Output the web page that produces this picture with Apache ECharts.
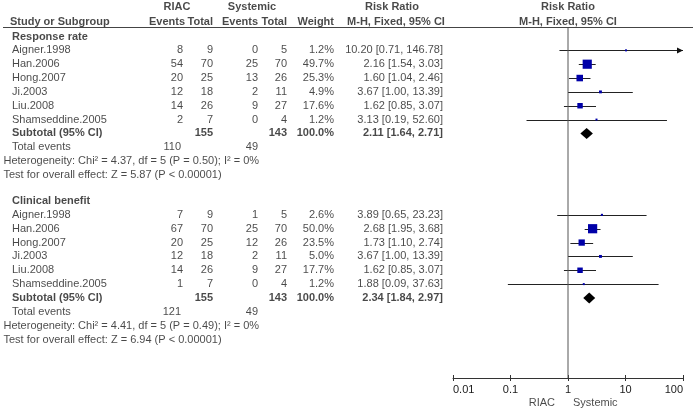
<!DOCTYPE html>
<html><head><meta charset="utf-8">
<script src="https://cdn.jsdelivr.net/npm/echarts@6/dist/echarts.min.js"></script>
<style>html,body{margin:0;padding:0;background:#fff}#c{width:697px;height:412px}</style>
</head><body><div id="c"></div>
<script>
// ---------- data ----------
const studies = ['Aigner.1998','Han.2006','Hong.2007','Ji.2003','Liu.2008','Shamseddine.2005'];
const groupNames = ['Response rate','Clinical benefit'];

// Response rate
const rrRiacEvents = [8,54,20,12,14,2];
const rrRiacTotal  = [9,70,25,18,26,7];
const rrSysEvents  = [0,25,13,2,9,0];
const rrSysTotal   = [5,70,26,11,27,4];
const rrWeight     = [1.2,49.7,25.3,4.9,17.6,1.2];
const rrRR         = [10.20,2.16,1.60,3.67,1.62,3.13];
const rrLo         = [0.71,1.54,1.04,1.00,0.85,0.19];
const rrHi         = [146.78,3.03,2.46,13.39,3.07,52.60];
const rrSubtotal   = [2.11,1.64,2.71];
const rrTotals     = [155,143];
const rrEvents     = [110,49];
const rrHet        = 'Heterogeneity: Chi\u00b2 = 4.37, df = 5 (P = 0.50); I\u00b2 = 0%';
const rrTest       = 'Test for overall effect: Z = 5.87 (P < 0.00001)';

// Clinical benefit
const cbRiacEvents = [7,67,20,12,14,1];
const cbRiacTotal  = [9,70,25,18,26,7];
const cbSysEvents  = [1,25,12,2,9,0];
const cbSysTotal   = [5,70,26,11,27,4];
const cbWeight     = [2.6,50.0,23.5,5.0,17.7,1.2];
const cbRR         = [3.89,2.68,1.73,3.67,1.62,1.88];
const cbLo         = [0.65,1.95,1.10,1.00,0.85,0.09];
const cbHi         = [23.23,3.68,2.74,13.39,3.07,37.63];
const cbSubtotal   = [2.34,1.84,2.97];
const cbTotals     = [155,143];
const cbEvents     = [121,49];
const cbHet        = 'Heterogeneity: Chi\u00b2 = 4.41, df = 5 (P = 0.49); I\u00b2 = 0%';
const cbTest       = 'Test for overall effect: Z = 6.94 (P < 0.00001)';

const xTickLabels = ['0.01','0.1','1','10','100'];
const favourLabels = ['RIAC','Systemic'];

// ---------- build ----------
const groups = [
  {name:groupNames[0], re:rrRiacEvents, rt:rrRiacTotal, se:rrSysEvents, st:rrSysTotal, w:rrWeight, rr:rrRR, lo:rrLo, hi:rrHi, sub:rrSubtotal, tot:rrTotals, ev:rrEvents, het:rrHet, test:rrTest},
  {name:groupNames[1], re:cbRiacEvents, rt:cbRiacTotal, se:cbSysEvents, st:cbSysTotal, w:cbWeight, rr:cbRR, lo:cbLo, hi:cbHi, sub:cbSubtotal, tot:cbTotals, ev:cbEvents, het:cbHet, test:cbTest}
];

const FONT = '"Liberation Sans", Arial, Helvetica, sans-serif';
const TXT = '#1a1a1a';
const col = {name:12, stat:3.5, re:183, rt:213, se:258, st:287, w:334, rr:443};
const groupBase = [0, 11.88];
const yMin = -0.614, yMax = 24.66;
const headRow = [-2.13, -1.08];
const favourRow = 26.46;

const texts = [];
function T(x,row,text,align,bold){
  texts.push({name:String(text), value:[x,row], label:{align:align||'left', fontWeight:bold?'bold':'normal'}});
}
const f2 = v => v.toFixed(2);
const ciTxt = (r,l,h) => f2(r)+' ['+f2(l)+', '+f2(h)+']';

// headers
T(177,headRow[0],'RIAC','center',true);
T(252,headRow[0],'Systemic','center',true);
T(392,headRow[0],'Risk Ratio','center',true);
T(568,headRow[0],'Risk Ratio','center',true);
T(10,headRow[1],'Study or Subgroup','left',true);
T(185,headRow[1],'Events','right',true);
T(213,headRow[1],'Total','right',true);
T(258,headRow[1],'Events','right',true);
T(287,headRow[1],'Total','right',true);
T(334,headRow[1],'Weight','right',true);
T(396,headRow[1],'M-H, Fixed, 95% CI','center',true);
T(568,headRow[1],'M-H, Fixed, 95% CI','center',true);

const forest = [];
groups.forEach((g,gi)=>{
  const base = groupBase[gi];
  T(col.name, base, g.name, 'left', true);
  studies.forEach((s,i)=>{
    const r = base+1+i;
    T(col.name, r, s);
    T(col.re, r, g.re[i], 'right');
    T(col.rt, r, g.rt[i], 'right');
    T(col.se, r, g.se[i], 'right');
    T(col.st, r, g.st[i], 'right');
    T(col.w, r, g.w[i].toFixed(1)+'%', 'right');
    T(col.rr, r, ciTxt(g.rr[i],g.lo[i],g.hi[i]), 'right');
    forest.push([g.rr[i], g.lo[i], g.hi[i], r, g.w[i], 0]);
  });
  const rs = base+7;
  T(col.name, rs, 'Subtotal (95% CI)', 'left', true);
  T(col.rt, rs, g.tot[0], 'right', true);
  T(col.st, rs, g.tot[1], 'right', true);
  T(col.w, rs, '100.0%', 'right', true);
  T(col.rr, rs, ciTxt(g.sub[0],g.sub[1],g.sub[2]), 'right', true);
  forest.push([g.sub[0], g.sub[1], g.sub[2], rs, 100, 1]);
  T(col.name, base+8, 'Total events');
  T(col.re-2, base+8, g.ev[0], 'right');
  T(col.se, base+8, g.ev[1], 'right');
  T(col.stat, base+9, g.het);
  T(col.stat, base+10, g.test);
});
T(555, favourRow, favourLabels[0], 'right');
T(573, favourRow, favourLabels[1], 'left');

function renderItem(params, api){
  const rr=api.value(0), lo=api.value(1), hi=api.value(2), row=api.value(3), w=api.value(4), sub=api.value(5);
  const c = api.coord([rr,row]);
  if (sub) {
    const a = api.coord([lo,row]), b = api.coord([hi,row]);
    return {type:'polygon', shape:{points:[[a[0],c[1]],[c[0],c[1]-5.5],[b[0],c[1]],[c[0],c[1]+5.5]]}, style:{fill:'#000'}};
  }
  const y = Math.round(c[1])+0.5;
  const a = api.coord([Math.max(lo,0.01),row]), b = api.coord([Math.min(hi,100),row]);
  const children = [{type:'line', shape:{x1:a[0],y1:y,x2:b[0],y2:y}, style:{stroke:'#222',lineWidth:1}}];
  if (hi>100) children.push({type:'polygon', shape:{points:[[b[0]-6,y-3],[b[0],y],[b[0]-6,y+3]]}, style:{fill:'#111'}});
  const s = Math.max(2, 1.3*Math.sqrt(w));
  children.push({type:'rect', shape:{x:c[0]-s/2, y:c[1]-s/2, width:s, height:s}, style:{fill:'#0000a8'}});
  return {type:'group', children};
}

const chart = echarts.init(document.getElementById('c'), null, {renderer:'canvas'});
chart.setOption({
  animation:false,
  backgroundColor:'#fff',
  textStyle:{fontFamily:FONT},
  grid:[
    {left:453, top:28, width:230, height:350},
    {left:0, top:28, width:697, height:350}
  ],
  xAxis:[
    {type:'log', logBase:10, min:0.01, max:100, gridIndex:0, position:'bottom',
     axisLine:{onZero:false, lineStyle:{color:'#333', width:1}},
     axisTick:{show:true, length:3, lineStyle:{color:'#333'}},
     minorTick:{show:false}, splitLine:{show:false},
     axisLabel:{fontSize:11, color:TXT, fontFamily:FONT, margin:6, alignMinLabel:'left', alignMaxLabel:'right',
       formatter:v=>xTickLabels[Math.round(Math.log10(v))+2]}},
    {type:'value', min:0, max:697, gridIndex:1, show:false},
    {type:'log', logBase:10, min:0.01, max:100, gridIndex:0, position:'bottom',
     axisLine:{show:false, onZero:false},
     axisTick:{show:true, inside:true, length:3, lineStyle:{color:'#333'}},
     minorTick:{show:false}, splitLine:{show:false}, axisLabel:{show:false}}
  ],
  yAxis:[
    {type:'value', min:yMin, max:yMax, inverse:true, gridIndex:0, show:false},
    {type:'value', min:yMin, max:yMax, inverse:true, gridIndex:1, show:false}
  ],
  graphic:[{type:'line', shape:{x1:3,y1:27.5,x2:693,y2:27.5}, style:{stroke:'#444', lineWidth:1}}],
  series:[
    {type:'line', xAxisIndex:0, yAxisIndex:0, data:[[1,yMin],[1,yMax]], showSymbol:false, symbol:'none',
     lineStyle:{color:'#555', width:1}, silent:true},
    {type:'custom', xAxisIndex:0, yAxisIndex:0, renderItem, data:forest, encode:{x:[0,1,2], y:3}, clip:false, silent:true},
    {type:'scatter', xAxisIndex:1, yAxisIndex:1, symbolSize:0, data:texts, clip:false, silent:true,
     label:{show:true, position:'inside', formatter:'{b}', fontSize:11, color:TXT, fontFamily:FONT, verticalAlign:'middle'}}
  ]
});
</script></body></html>
